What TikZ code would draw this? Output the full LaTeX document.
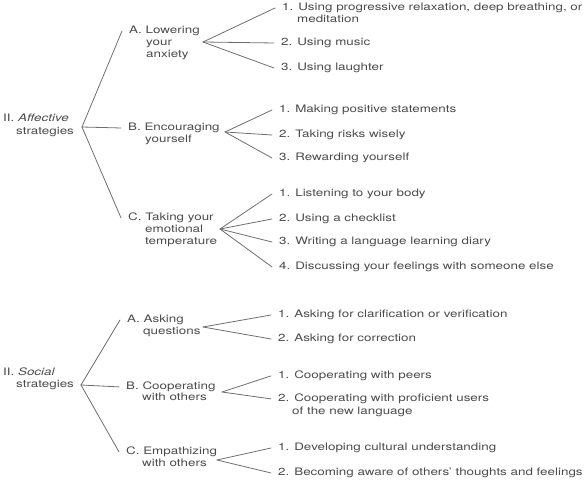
\documentclass[tikz,border=0pt]{standalone}
\usepackage{fontspec}
\setmainfont{TeX Gyre Heros}[FakeStretch=1.3]
\usepackage{tikz}
\definecolor{ink}{HTML}{4A4A4A}
\definecolor{wire}{HTML}{6E6E6E}

\begin{document}
\begin{tikzpicture}[line cap=round,line join=round,x=1pt,y=-1pt,
  txt/.style={anchor=mid west,inner xsep=7pt,inner ysep=1pt,text=ink,
    font=\fontsize{10.3}{12}\selectfont},
  wire/.style={draw=wire,line width=0.8pt}]
\useasboundingbox (0,0) rectangle (588,481);
% affective strategies
\node[txt] (affroot) at (-4,119) {II. \textit{Affective}};
\node[txt] (affroot2) at (9,132) {strategies};
\coordinate (affT) at (82,127);
\node[txt] (affA) at (122,31) {A. Lowering};
\node[txt] (affA2) at (139,43) {your};
\node[txt] (affA3) at (139,55) {anxiety};
\node[txt] (affB) at (121,128) {B. Encouraging};
\node[txt] (affB2) at (138,140) {yourself};
\node[txt] (affC) at (121,218) {C. Taking your};
\node[txt] (affC2) at (138,230) {emotional};
\node[txt] (affC3) at (138,242) {temperature};
\draw[wire] (affT) -- (affA.west);
\draw[wire] (affT) -- (affB.west);
\draw[wire] (affT) -- (affC.west);
\coordinate (affAT) at (203,42);
\coordinate (affBT) at (225,132);
\coordinate (affCT) at (220,229);
\node[txt] (affA1) at (275,8) {1. Using progressive relaxation, deep breathing, or};
\node[txt] (affA1m) at (290,20) {meditation};
\node[txt] (affA2l) at (274,43) {2. Using music};
\node[txt] (affA3l) at (274,68) {3. Using laughter};
\node[txt] (affB1) at (272,110) {1. Making positive statements};
\node[txt] (affB2l) at (272,135) {2. Taking risks wisely};
\node[txt] (affB3l) at (272,158) {3. Rewarding yourself};
\node[txt] (affC1) at (272,194) {1. Listening to your body};
\node[txt] (affC2l) at (272,219) {2. Using a checklist};
\node[txt] (affC3l) at (272,242) {3. Writing a language learning diary};
\node[txt] (affC4l) at (272,267) {4. Discussing your feelings with someone else};
\draw[wire] (affAT) -- (affA1.west);
\draw[wire] (affAT) -- (affA2l.west);
\draw[wire] (affAT) -- (affA3l.west);
\draw[wire] (affBT) -- (affB1.west);
\draw[wire] (affBT) -- (affB2l.west);
\draw[wire] (affBT) -- (affB3l.west);
\draw[wire] (affCT) -- (affC1.west);
\draw[wire] (affCT) -- (affC2l.west);
\draw[wire] (affCT) -- (affC3l.west);
\draw[wire] (affCT) -- (affC4l.west);
% social strategies
\node[txt] (socroot) at (-4,373) {II. \textit{Social}};
\node[txt] (socroot2) at (9,385) {strategies};
\coordinate (socT) at (81,385);
\node[txt] (socA) at (120,320) {A. Asking};
\node[txt] (socA2) at (136,332) {questions};
\node[txt] (socB) at (119,387) {B. Cooperating};
\node[txt] (socB2) at (135,398) {with others};
\node[txt] (socC) at (119,452) {C. Empathizing};
\node[txt] (socC2) at (135,464) {with others};
\draw[wire] (socT) -- (socA.west);
\draw[wire] (socT) -- (socB.west);
\draw[wire] (socT) -- (socC.west);
\coordinate (socAT) at (203,327);
\coordinate (socBT) at (222,392);
\coordinate (socCT) at (217,460);
\node[txt] (socA1) at (271,315) {1. Asking for clarification or verification};
\node[txt] (socA2l) at (271,339) {2. Asking for correction};
\node[txt] (socB1) at (271,376) {1. Cooperating with peers};
\node[txt] (socB2l) at (271,399) {2. Cooperating with proficient users};
\node[txt] (socB2m) at (285,412) {of the new language};
\node[txt] (socC1) at (271,448) {1. Developing cultural understanding};
\node[txt] (socC2l) at (271,473) {2. Becoming aware of others' thoughts and feelings};
\draw[wire] (socAT) -- (socA1.west);
\draw[wire] (socAT) -- (socA2l.west);
\draw[wire] (socBT) -- (socB1.west);
\draw[wire] (socBT) -- (socB2l.west);
\draw[wire] (socCT) -- (socC1.west);
\draw[wire] (socCT) -- (socC2l.west);
\end{tikzpicture}
\end{document}
